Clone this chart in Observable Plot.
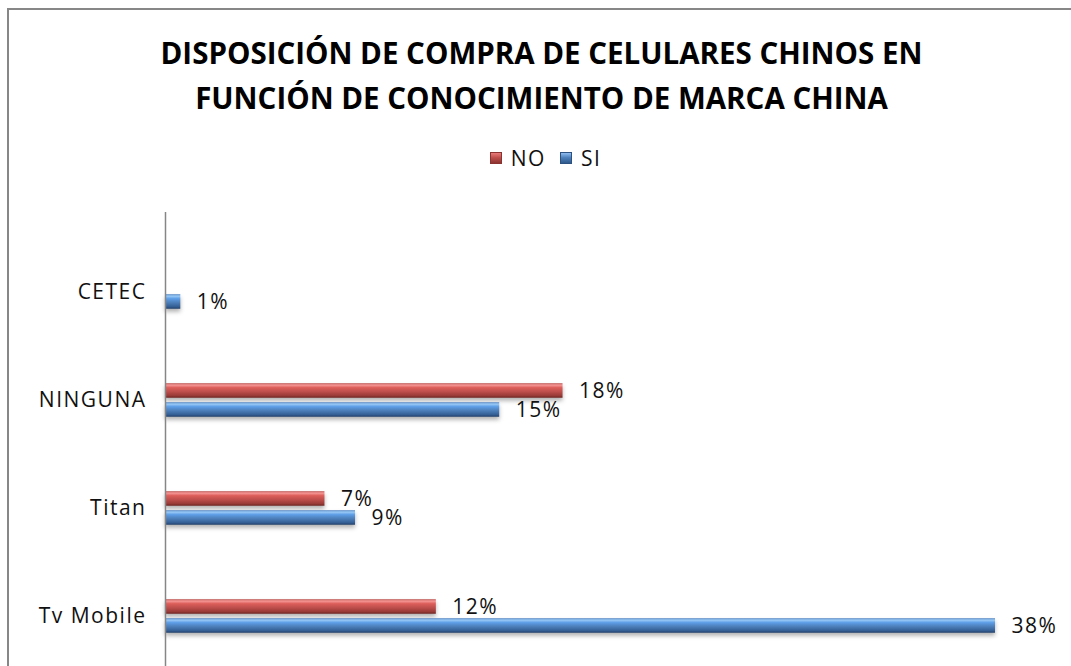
<!DOCTYPE html>
<html>
<head>
<meta charset="utf-8">
<script src="https://cdn.jsdelivr.net/npm/d3@7"></script>
<script src="https://cdn.jsdelivr.net/npm/@observablehq/plot@0.6"></script>
<style>
  html, body { margin: 0; padding: 0; background: #fff; overflow: hidden; width: 1071px; height: 666px; }
  #frame { position: absolute; left: 7px; top: 8px; width: 1100px; height: 700px; border: 2px solid #878787; box-sizing: border-box; pointer-events: none; }
  #title { height: 120px; box-sizing: border-box; padding-top: 30px; padding-left: 12px; text-align: center;
           font-family: "Open Sans", sans-serif; font-weight: 700; font-size: 29.5px; line-height: 45px; color: #000; }
  #legend { height: 50px; box-sizing: border-box; padding-top: 26px; padding-left: 20px; display: flex; justify-content: center;
            align-items: center; font-family: "Open Sans", sans-serif; font-size: 21px; line-height: 24px; color: #111; letter-spacing: 1.5px; }
  .sw { display: inline-block; width: 12px; height: 12px; margin-right: 9px; box-sizing: border-box; }
  .sw.no { background: linear-gradient(#e87c7a, #c0504d 45%, #8e3432); border: 1px solid #8a3330; }
  .sw.si { background: linear-gradient(#8fbdf0, #4f81bd 45%, #2f5a8c); border: 1px solid #2c5282; }
  .item { display: inline-flex; align-items: center; margin: 0 7px; }
  #chart svg { display: block; }
</style>
</head>
<body>
<svg width="0" height="0" style="position:absolute">
  <defs>
    <linearGradient id="gradNO" x1="0" y1="0" x2="0" y2="1">
      <stop offset="0" stop-color="#b94a47"/>
      <stop offset="0.12" stop-color="#f59a98"/>
      <stop offset="0.3" stop-color="#dd5f5b"/>
      <stop offset="0.55" stop-color="#c0504d"/>
      <stop offset="0.85" stop-color="#9a3b38"/>
      <stop offset="1" stop-color="#6e2523"/>
    </linearGradient>
    <linearGradient id="gradSI" x1="0" y1="0" x2="0" y2="1">
      <stop offset="0" stop-color="#4a7fbf"/>
      <stop offset="0.12" stop-color="#9ccbf7"/>
      <stop offset="0.3" stop-color="#5d9ee6"/>
      <stop offset="0.55" stop-color="#4f81bd"/>
      <stop offset="0.85" stop-color="#345f94"/>
      <stop offset="1" stop-color="#22406a"/>
    </linearGradient>
  </defs>
</svg>
<div id="frame"></div>
<div id="title">DISPOSICIÓN DE COMPRA DE CELULARES CHINOS EN<br>FUNCIÓN DE CONOCIMIENTO DE MARCA CHINA</div>
<div id="legend">
  <span class="item"><span class="sw no"></span>NO</span>
  <span class="item"><span class="sw si"></span>SI</span>
</div>
<div id="chart"></div>
<script>
// Categories (top to bottom as drawn)
const categories = ["CETEC", "NINGUNA", "Titan", "Tv Mobile"];
const seriesNames = ["NO", "SI"];
// Values (labels show rounded percentages)
const valuesNO = [null, 0.182, 0.073, 0.124];
const valuesSI = [0.007, 0.153, 0.087, 0.38];

const rowsNO = categories.map((c, i) => ({category: c, series: seriesNames[0], value: valuesNO[i]})).filter(d => d.value != null);
const rowsSI = categories.map((c, i) => ({category: c, series: seriesNames[1], value: valuesSI[i]})).filter(d => d.value != null);

const fmt = d3.format(".0%");
const band = 108.5;

const plot = Plot.plot({
  width: 1071,
  height: 496,
  marginTop: 42,
  marginBottom: 0,
  marginLeft: 165,
  marginRight: 0,
  style: {fontFamily: "Open Sans, sans-serif", fontSize: "21px", color: "#111", background: "transparent"},
  x: {domain: [0, 0.38], range: [165, 995], axis: null},
  y: {type: "band", domain: categories, range: [67.25, 501.25], padding: 0, label: null, tickSize: 0, tickPadding: 19},
  marks: [
    Plot.barX(rowsNO, {x: "value", y: "category", fill: "url(#gradNO)", insetTop: 37.25, insetBottom: band - 52.25}),
    Plot.barX(rowsSI, {x: "value", y: "category", fill: "url(#gradSI)", insetTop: 56.25, insetBottom: band - 71.25}),
    Plot.ruleX([0], {stroke: "#868686", strokeWidth: 1.5}),
    Plot.text(rowsNO, {x: "value", y: "category", text: d => fmt(d.value), textAnchor: "start", dx: 16, dy: -9, fontSize: 21, fill: "#111"}),
    Plot.text(rowsSI, {x: "value", y: "category", text: d => fmt(d.value), textAnchor: "start", dx: 16, dy: 10, fontSize: 21, fill: "#111"})
  ]
});
document.getElementById("chart").appendChild(plot);
// soft shadow under bars
plot.querySelectorAll('g[aria-label="bar"]').forEach(g => g.style.filter = "drop-shadow(0px 3px 2px rgba(0,0,0,0.3))");
plot.querySelectorAll('g[aria-label="y-axis tick label"] text, g[aria-label="y-axis"] text').forEach(t => t.setAttribute("letter-spacing", "1.5"));
plot.querySelectorAll('g[aria-label="text"] text').forEach(t => t.setAttribute("letter-spacing", "1.5"));
</script>
</body>
</html>
